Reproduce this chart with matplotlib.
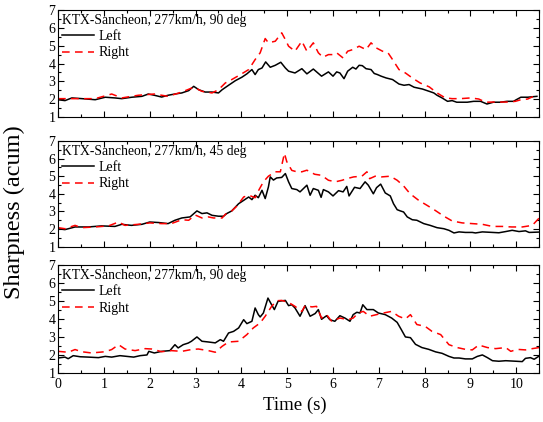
import matplotlib
matplotlib.use('Agg')
import matplotlib.pyplot as plt
from matplotlib.ticker import MultipleLocator

plt.rcParams['font.family'] = ['Liberation Serif', 'DejaVu Serif']

titles = ['KTX-Sancheon, 277km/h, 90 deg',
          'KTX-Sancheon, 277km/h, 45 deg',
          'KTX-Sancheon, 277km/h, 90 deg']

# panel 1
t1_left = [0, 0.15, 0.3, 0.52, 0.81, 1.03, 1.24, 1.39, 1.61, 1.83, 1.97, 2.1, 2.26, 2.4, 2.55, 2.7,
           2.85, 2.96, 3.07, 3.21, 3.36, 3.5, 3.58, 3.72, 3.87, 4.01, 4.12, 4.23, 4.3, 4.37, 4.45,
           4.53, 4.63, 4.74, 4.86, 4.96, 5.03, 5.17, 5.32, 5.43, 5.57, 5.75, 5.9, 6.0, 6.08, 6.15,
           6.24, 6.32, 6.43, 6.5, 6.57, 6.64, 6.72, 6.83, 6.9, 6.97, 7.05, 7.16, 7.3, 7.44, 7.55,
           7.66, 7.77, 7.95, 8.1, 8.2, 8.27, 8.38, 8.5, 8.6, 8.7, 8.93, 9.07, 9.22, 9.36, 9.5, 9.65,
           9.8, 9.94, 10.0, 10.1, 10.25, 10.45]
s1_left = [1.97, 1.92, 2.07, 2.03, 1.97, 2.11, 2.07, 2.03, 2.11, 2.16, 2.29, 2.22, 2.12, 2.22, 2.29, 2.35,
           2.48, 2.72, 2.53, 2.4, 2.4, 2.35, 2.53, 2.78, 3.04, 3.23, 3.42, 3.66, 3.38, 3.66, 3.75,
           4.09, 3.79, 3.9, 4.07, 3.75, 3.57, 3.47, 3.71, 3.42, 3.69, 3.29, 3.53, 3.29, 3.53, 3.47,
           3.15, 3.57, 3.79, 3.69, 3.9, 3.88, 3.71, 3.66, 3.44, 3.38, 3.29, 3.19, 3.1, 2.85, 2.78,
           2.82, 2.67, 2.57, 2.44, 2.35, 2.22, 2.07, 1.88, 1.92, 1.83, 1.83, 1.88, 1.88, 1.73, 1.83, 1.83,
           1.88, 1.88, 1.97, 2.11, 2.11, 2.16]
t1_right = [0, 0.81, 1.17, 1.39, 1.75, 2.1, 2.4, 2.7, 2.96, 3.14, 3.36, 3.5, 3.65, 3.79, 3.98, 4.16,
            4.3, 4.41, 4.52, 4.59, 4.74, 4.88, 4.96, 5.03, 5.17, 5.32, 5.43, 5.57, 5.68, 5.78, 5.9,
            6.0, 6.08, 6.22, 6.32, 6.43, 6.57, 6.72, 6.83, 6.94, 7.08, 7.2, 7.3, 7.44, 7.58, 7.73,
            7.9, 8.1, 8.27, 8.45, 8.6, 8.78, 9.0, 9.18, 9.33, 9.5, 9.8, 9.98, 10.1, 10.25, 10.45]
s1_right = [2.03, 2.03, 2.29, 2.07, 2.22, 2.29, 2.16, 2.4, 2.67, 2.44, 2.35, 2.53, 2.91, 3.1, 3.38, 3.66,
            4.22, 4.6, 5.4, 5.16, 5.25, 5.72, 5.34, 4.97, 4.69, 5.25, 4.69, 5.16, 4.6, 4.35, 4.5,
            4.5, 4.6, 4.31, 4.69, 4.78, 4.97, 4.78, 5.16, 4.88, 4.69, 4.6, 4.22, 3.66, 3.47, 3.19,
            2.91, 2.69, 2.35, 2.07, 2.03, 2.03, 2.07, 2.01, 1.83, 1.84, 1.84, 1.88, 1.97, 2.01, 2.25]

# panel 2
t2_left = [0, 0.15, 0.37, 0.66, 0.95, 1.24, 1.39, 1.6, 1.83, 2.0, 2.2, 2.4, 2.55, 2.7, 2.88, 3.03,
           3.14, 3.25, 3.36, 3.5, 3.61, 3.68, 3.79, 3.94, 4.05, 4.16, 4.23, 4.3, 4.37, 4.45, 4.52,
           4.59, 4.63, 4.7, 4.77, 4.88, 4.96, 5.03, 5.1, 5.21, 5.28, 5.43, 5.5, 5.57, 5.68, 5.74,
           5.79, 5.9, 6.0, 6.12, 6.22, 6.3, 6.35, 6.47, 6.59, 6.7, 6.77, 6.88, 6.95, 7.04, 7.14,
           7.25, 7.32, 7.4, 7.47, 7.54, 7.62, 7.73, 7.83, 7.98, 8.12, 8.27, 8.42, 8.53, 8.64, 8.75,
           8.89, 9.04, 9.11, 9.26, 9.48, 9.62, 9.77, 9.91, 10.06, 10.2, 10.28, 10.5]
s2_left = [2.02, 1.97, 2.12, 2.12, 2.18, 2.15, 2.27, 2.21, 2.27, 2.4, 2.37, 2.31, 2.5, 2.63, 2.69, 3.03,
           2.88, 2.92, 2.78, 2.73, 2.73, 2.88, 3.03, 3.44, 3.63, 3.82, 3.67, 3.92, 3.78, 4.2, 3.73,
           4.39, 4.96, 4.78, 4.9, 4.93, 5.15, 4.68, 4.3, 4.24, 4.11, 4.49, 3.92, 4.3, 4.2, 3.8,
           4.24, 4.11, 3.88, 4.18, 4.11, 4.42, 3.88, 4.37, 4.3, 4.68, 4.49, 4.0, 4.35, 4.55, 4.05,
           3.88, 3.44, 3.1, 3.03, 2.97, 2.69, 2.53, 2.5, 2.31, 2.21, 2.08, 2.02, 1.93, 1.78, 1.84,
           1.81, 1.81, 1.78, 1.84, 1.81, 1.79, 1.86, 1.93, 1.86, 1.9, 1.81, 1.83]
t2_right = [0, 0.15, 0.37, 0.51, 0.81, 1.1, 1.32, 1.46, 1.75, 2.0, 2.26, 2.47, 2.7, 2.85, 2.99, 3.14,
            3.28, 3.39, 3.58, 3.65, 3.79, 3.9, 4.05, 4.16, 4.3, 4.37, 4.48, 4.59, 4.74, 4.85, 4.94,
            4.99, 5.1, 5.21, 5.32, 5.43, 5.6, 5.75, 5.9, 6.05, 6.2, 6.3, 6.45, 6.63, 6.74, 6.8,
            6.92, 7.06, 7.25, 7.4, 7.54, 7.68, 7.87, 8.05, 8.23, 8.42, 8.6, 8.82, 9.04, 9.26, 9.48,
            9.7, 9.9, 10.13, 10.35, 10.5]
s2_right = [2.08, 2.02, 2.21, 2.08, 2.12, 2.18, 2.4, 2.21, 2.27, 2.35, 2.31, 2.31, 2.53, 2.5, 2.8, 2.63,
            2.69, 2.63, 2.63, 2.84, 3.03, 3.3, 3.82, 3.92, 3.78, 4.16, 4.68, 5.0, 5.25, 5.25, 6.3,
            5.83, 5.33, 5.25, 5.25, 5.34, 5.11, 5.05, 4.77, 4.68, 4.77, 4.86, 4.96, 5.0, 5.25, 4.86,
            5.0, 4.96, 5.0, 4.77, 4.45, 4.01, 3.63, 3.35, 3.06, 2.73, 2.46, 2.35, 2.31, 2.27, 2.15,
            2.15, 2.12, 2.12, 2.21, 2.63]

# panel 3
t3_left = [0, 0.15, 0.22, 0.33, 0.48, 0.66, 0.88, 1.03, 1.17, 1.35, 1.5, 1.65, 1.79, 1.94, 1.98, 2.1,
           2.26, 2.44, 2.55, 2.62, 2.73, 2.84, 2.91, 3.03, 3.14, 3.28, 3.43, 3.54, 3.61, 3.72, 3.83,
           3.94, 4.05, 4.12, 4.23, 4.3, 4.37, 4.41, 4.48, 4.58, 4.66, 4.72, 4.8, 4.96, 5.03, 5.1,
           5.17, 5.28, 5.39, 5.5, 5.61, 5.68, 5.75, 5.86, 5.93, 6.04, 6.15, 6.26, 6.37, 6.44, 6.52,
           6.59, 6.65, 6.74, 6.88, 6.99, 7.14, 7.28, 7.4, 7.49, 7.58, 7.69, 7.8, 7.94, 8.09, 8.24,
           8.38, 8.53, 8.64, 8.75, 8.89, 9.04, 9.15, 9.26, 9.37, 9.48, 9.62, 9.77, 9.99, 10.13, 10.2,
           10.31, 10.39, 10.5]
s3_left = [1.85, 1.9, 1.81, 1.98, 1.92, 1.9, 1.87, 1.94, 1.9, 1.98, 1.94, 1.9, 1.98, 2.02, 2.22, 2.13,
           2.22, 2.26, 2.59, 2.41, 2.59, 2.68, 2.78, 3.02, 2.78, 2.74, 2.69, 2.87, 2.78, 3.24, 3.33,
           3.52, 3.98, 3.76, 3.89, 4.63, 4.26, 4.13, 4.35, 5.18, 4.81, 4.54, 5.0, 5.05, 4.76, 4.81,
           4.63, 4.17, 4.76, 4.17, 4.32, 4.54, 4.0, 4.2, 3.98, 3.89, 4.2, 4.07, 3.89, 4.26, 4.39,
           4.35, 4.81, 4.54, 4.54, 4.35, 4.26, 4.07, 3.83, 3.43, 3.02, 2.98, 2.61, 2.43, 2.33, 2.19,
           2.11, 1.94, 1.85, 1.85, 1.8, 1.8, 1.94, 2.02, 1.87, 1.7, 1.67, 1.7, 1.67, 1.65, 1.83,
           1.87, 1.78, 1.96]
t3_right = [0, 0.22, 0.37, 0.51, 0.73, 1.03, 1.17, 1.32, 1.46, 1.68, 1.9, 2.04, 2.26, 2.47, 2.7, 2.91,
            3.06, 3.28, 3.43, 3.58, 3.72, 3.94, 4.12, 4.26, 4.41, 4.52, 4.66, 4.77, 4.88, 5.03, 5.17,
            5.32, 5.39, 5.54, 5.64, 5.75, 5.86, 5.97, 6.15, 6.33, 6.44, 6.55, 6.66, 6.8, 6.95, 7.1,
            7.28, 7.43, 7.58, 7.69, 7.83, 8.01, 8.16, 8.35, 8.53, 8.71, 8.89, 9.04, 9.18, 9.37, 9.55,
            9.77, 9.88, 10.02, 10.2, 10.35, 10.5]
s3_right = [2.22, 2.17, 2.32, 2.2, 2.13, 2.2, 2.32, 2.59, 2.35, 2.26, 2.37, 2.35, 2.2, 2.26, 2.22, 2.32,
            2.35, 2.26, 2.17, 2.5, 2.74, 2.78, 3.15, 3.52, 3.8, 4.17, 4.72, 5.03, 5.05, 4.94, 4.72,
            4.44, 4.76, 4.69, 4.72, 4.07, 4.26, 3.89, 4.07, 3.98, 4.07, 4.35, 4.44, 4.17, 4.26, 4.35,
            4.44, 4.17, 4.02, 4.26, 3.71, 3.61, 3.33, 3.15, 2.59, 2.43, 2.33, 2.3, 2.57, 2.43, 2.37,
            2.43, 2.22, 2.33, 2.3, 2.37, 2.43]

panels = [(t1_left, s1_left, t1_right, s1_right),
          (t2_left, s2_left, t2_right, s2_right),
          (t3_left, s3_left, t3_right, s3_right)]

fig = plt.figure(figsize=(5.43, 4.22), dpi=100)
boxes = [[0.107, 0.7227, 0.886, 0.2536],
         [0.107, 0.4154, 0.886, 0.2506],
         [0.107, 0.1154, 0.886, 0.2559]]

for i, (tl, sl, tr, sr) in enumerate(panels):
    ax = fig.add_axes(boxes[i])
    ax.plot(tl, sl, color='black', lw=1.1, label='Left')
    ax.plot(tr, sr, color='red', lw=1.1, ls=(0, (5, 3.5)), label='Right')
    ax.set_xlim(0, 10.5)
    ax.set_ylim(1, 7)
    ax.xaxis.set_major_locator(MultipleLocator(1))
    ax.xaxis.set_minor_locator(MultipleLocator(0.5))
    ax.yaxis.set_major_locator(MultipleLocator(1))
    ax.yaxis.set_minor_locator(MultipleLocator(0.5))
    ax.tick_params(which='both', direction='in', top=True, right=True, labelsize=10)
    ax.tick_params(which='major', length=4, width=0.8)
    ax.tick_params(which='minor', length=2, width=0.8)
    ax.tick_params(axis='y', pad=2)
    if i < 2:
        ax.tick_params(labelbottom=False)
    leg = ax.legend(title=titles[i], loc='upper left', frameon=False, fontsize=10,
                    title_fontsize=9.8, alignment='left', handlelength=2.3,
                    handletextpad=0.3, borderaxespad=0.2, borderpad=0.1,
                    labelspacing=0.25)
    leg._legend_box.sep = 2

fig.text(0.027, 0.497, 'Sharpness (acum)', rotation=90, ha='center', va='center', fontsize=17.5)
fig.text(0.543, 0.04, 'Time (s)', ha='center', va='center', fontsize=13.5)

plt.savefig('out.png', dpi=100)
